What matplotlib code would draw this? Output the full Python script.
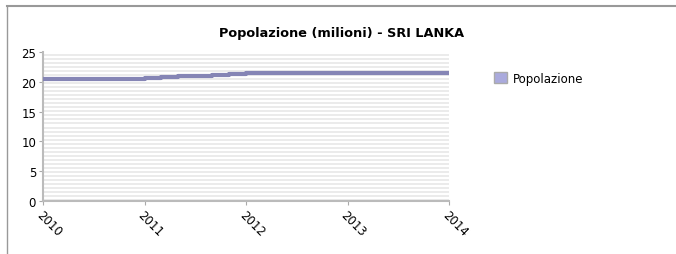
import numpy as np
import matplotlib
matplotlib.use('Agg')
import matplotlib.pyplot as plt
from matplotlib.lines import Line2D
from matplotlib.patches import Patch

# dati (anni frazionari, milioni)
anni = [2010.0, 2011.0, 2011 + 1/6, 2011 + 2/6, 2011 + 3/6, 2011 + 4/6, 2011 + 5/6, 2012.0, 2014.0]
popolazione = [20.45, 20.6, 20.75, 20.9, 21.05, 21.2, 21.35, 21.5, 21.5]
anni_tick = [2010, 2011, 2012, 2013, 2014]
y_tick = [0, 5, 10, 15, 20, 25]
titolo = 'Popolazione (milioni) - SRI LANKA'
serie = 'Popolazione'

fig = plt.figure(figsize=(6.76, 2.55), dpi=100)
ax = fig.add_axes([43/676, 1 - 202/255, (449 - 43)/676, (202 - 53)/255])

# sfondo a righe
step = 25 / 37
for y0 in np.arange(0, 25, step):
    ax.axhspan(y0, y0 + step / 2, color='#ebebeb', lw=0, zorder=0)

ax.plot(anni, popolazione, drawstyle='steps-post', color='#8585b5', lw=3,
        solid_capstyle='butt', zorder=3)

ax.set_xlim(2010, 2014)
ax.set_ylim(0, 25)
ax.set_xticks(anni_tick)
ax.set_yticks(y_tick)
ax.set_xticklabels([str(a) for a in anni_tick], rotation=-45, ha='left', va='top',
                   rotation_mode='anchor', fontsize=8.5)
ax.set_yticklabels([str(v) for v in y_tick], fontsize=8.5)
ax.tick_params(length=3, color='#aaaaaa', pad=2)
for s in ['top', 'right']:
    ax.spines[s].set_visible(False)
for s in ['left', 'bottom']:
    ax.spines[s].set_color('#bbbbbb')
    ax.spines[s].set_linewidth(1.5)

fig.text(342/676, 1 - 33/255, titolo, fontsize=9.3, fontweight='bold',
         ha='center', va='center')

fig.legend(handles=[Patch(facecolor='#aaaadd', edgecolor='#aaaaaa', label=serie)],
           loc='upper left', bbox_to_anchor=(483/676, 1 - 62/255), frameon=False,
           fontsize=8.5, handlelength=1.1, handleheight=1.1, handletextpad=0.5)

# cornice
fig.add_artist(Line2D([7/676, 1], [1 - 7/255, 1 - 7/255], color='#999999', lw=1.5))
fig.add_artist(Line2D([7/676, 7/676], [0, 1 - 7/255], color='#999999', lw=1))

fig.savefig('out.png', dpi=100)
